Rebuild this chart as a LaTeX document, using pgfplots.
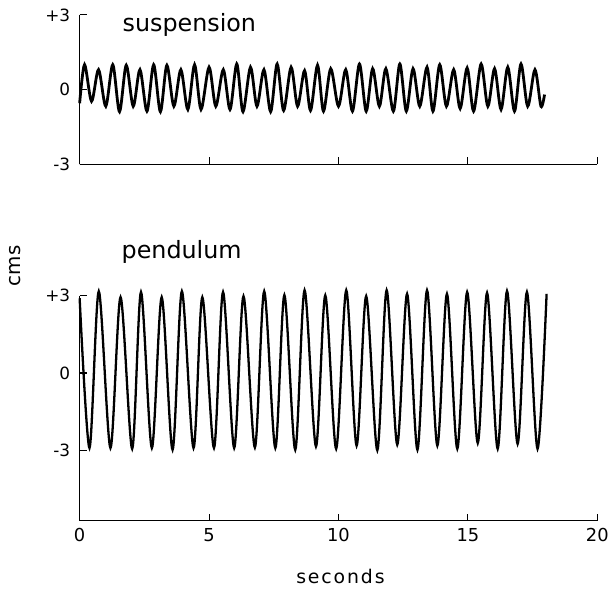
\documentclass[border=0pt]{standalone}
\usepackage{pgfplots}
\pgfplotsset{compat=1.18}
\usepackage{fontspec}
\setmainfont{DejaVu Sans}
\begin{document}
\begin{tikzpicture}[x=1bp,y=1bp]
\path (0,0) rectangle (612,591);
\pgfplotsset{
  common/.style={
    scale only axis, width=520bp, xmin=0, xmax=20,
    axis x line=bottom, axis y line=left,
    axis line style={-, line width=1.2bp},
    tick align=inside, major tick length=7bp,
    tick style={line width=1.1bp, black},
    xtick={0,5,10,15,20},
    ytick={-3,0,3}, yticklabels={-3,0,+3},
    yticklabel style={font=\fontsize{17}{17}\selectfont, xshift=-6bp},
    clip=false,
  }
}
% suspension
\begin{axis}[common, at={(80bp,426bp)}, anchor=south west, height=150bp,
  ymin=-3, ymax=3, xticklabels={}]
\addplot[black, line width=2.8bp, smooth, tension=0.5] coordinates {
(0.00,-0.55) (0.19,1.00) (0.46,-0.47) (0.73,0.80) (1.01,-0.67) (1.28,1.00)
(1.54,-0.89) (1.80,0.98) (2.07,-0.67) (2.33,0.80) (2.60,-0.87) (2.86,1.00)
(3.12,-0.89) (3.37,0.98) (3.64,-0.67) (3.91,0.80) (4.18,-0.80) (4.44,1.00)
(4.69,-0.80) (5.00,0.90) (5.26,-0.67) (5.55,0.80) (5.81,-0.80) (6.07,1.03)
(6.31,-0.89) (6.60,0.90) (6.85,-0.67) (7.12,0.80) (7.38,-0.89) (7.63,1.03)
(7.88,-0.84) (8.17,0.90) (8.42,-0.67) (8.69,0.76) (8.92,-0.84) (9.19,0.98)
(9.42,-0.87) (9.70,0.84) (10.00,-0.67) (10.28,0.80) (10.54,-0.87) (10.81,1.03)
(11.07,-0.87) (11.32,0.84) (11.58,-0.67) (11.83,0.84) (12.12,-0.87) (12.37,1.03)
(12.62,-0.87) (12.88,0.84) (13.14,-0.67) (13.42,0.90) (13.65,-0.87) (13.91,1.00)
(14.17,-0.67) (14.45,0.80) (14.70,-0.76) (14.97,0.87) (15.22,-0.87) (15.51,1.03)
(15.77,-0.67) (16.03,0.84) (16.28,-0.80) (16.54,0.90) (16.80,-0.87) (17.05,1.03)
(17.31,-0.67) (17.59,0.80) (17.82,-0.67) (17.96,-0.20)
};
\end{axis}
% pendulum
\begin{axis}[common, at={(80bp,68bp)}, anchor=south west, height=226bp,
  ymin=-5.73, ymax=3, xticklabels={0,5,10,15,20},
  xticklabel style={font=\fontsize{18}{18}\selectfont, yshift=-4bp}]
\addplot[black, line width=2.3bp, smooth, tension=0.5] coordinates {
(0.00,2.90) (0.38,-2.91) (0.74,3.17) (1.19,-2.91) (1.58,2.94) (2.03,-2.94)
(2.37,3.14) (2.79,-2.91) (3.17,2.94) (3.59,-2.98) (3.95,3.17) (4.40,-2.91)
(4.74,2.94) (5.19,-2.91) (5.54,3.14) (5.97,-2.91) (6.33,2.98) (6.77,-2.89)
(7.13,3.17) (7.56,-2.91) (7.91,3.02) (8.33,-2.98) (8.69,3.21) (9.13,-2.85)
(9.49,3.01) (9.91,-2.94) (10.30,3.21) (10.70,-2.82) (11.07,2.98) (11.50,-3.00)
(11.86,3.21) (12.27,-2.78) (12.65,3.07) (13.05,-2.98) (13.42,3.21) (13.82,-2.82)
(14.19,3.07) (14.59,-2.94) (14.97,3.14) (15.38,-2.72) (15.74,3.11) (16.15,-2.94)
(16.51,3.18) (16.92,-2.75) (17.28,3.14) (17.69,-2.94) (18.04,3.07)
};
\end{axis}
\node[anchor=base west, font=\fontsize{24}{24}\selectfont, inner sep=0] at (123,559) {suspension};
\node[anchor=base west, font=\fontsize{24}{24}\selectfont, inner sep=0] at (122,331) {pendulum};
\node[rotate=90, font=\fontsize{20}{20}\selectfont, inner sep=0] at (15,324) {cms};
\node[anchor=base, font=\fontsize{19}{19}\selectfont\addfontfeature{LetterSpace=10}, inner sep=0] at (342,5) {seconds};
\end{tikzpicture}
\end{document}
